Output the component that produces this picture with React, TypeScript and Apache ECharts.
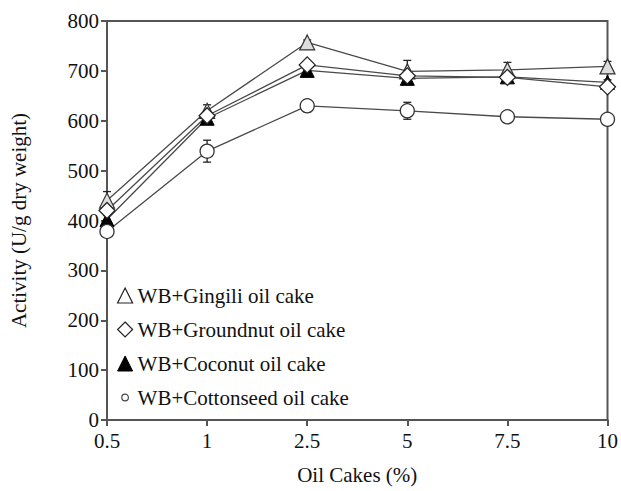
import React, { useEffect, useRef } from "react";
import * as echarts from "echarts";

const categories = ["0.5", "1", "2.5", "5", "7.5", "10"];
const yTicks = [0, 100, 200, 300, 400, 500, 600, 700, 800];

const gingili = [440, 620, 757, 699, 702, 709];
const gingiliErr = [18, 12, 5, 22, 15, 10];
const groundnut = [420, 610, 712, 690, 687, 668];
const groundnutErr = [5, 5, 5, 5, 5, 5];
const coconut = [402, 605, 701, 685, 688, 677];
const coconutErr = [8, 5, 5, 5, 5, 5];
const cottonseed = [378, 539, 630, 620, 608, 603];
const cottonseedErr = [5, 22, 12, 17, 6, 5];

const names = [
  "WB+Gingili oil cake",
  "WB+Groundnut oil cake",
  "WB+Coconut oil cake",
  "WB+Cottonseed oil cake",
];

const FONT = "Times New Roman, Liberation Serif, DejaVu Serif, serif";
const LINE = "#4a4a4a";
const SMALL_CIRCLE =
  "path://M0,0M100,100M28,50A22,22,0,1,0,72,50A22,22,0,1,0,28,50Z";

function errSeries(vals: number[], errs: number[]) {
  return {
    type: "custom",
    z: 1,
    silent: true,
    data: vals.map((v, i) => [i, v - errs[i], v + errs[i]]),
    encode: { x: 0, y: [1, 2] },
    renderItem: (params: any, api: any) => {
      const lo = api.coord([api.value(0), api.value(1)]);
      const hi = api.coord([api.value(0), api.value(2)]);
      const w = 4;
      const style = { stroke: "#222", lineWidth: 1.3 };
      return {
        type: "group",
        children: [
          { type: "line", shape: { x1: lo[0], y1: lo[1], x2: hi[0], y2: hi[1] }, style },
          { type: "line", shape: { x1: hi[0] - w, y1: hi[1], x2: hi[0] + w, y2: hi[1] }, style },
          { type: "line", shape: { x1: lo[0] - w, y1: lo[1], x2: lo[0] + w, y2: lo[1] }, style },
        ],
      };
    },
  };
}

export default function App() {
  const ref = useRef<HTMLDivElement>(null);
  useEffect(() => {
    if (!ref.current) return;
    const chart = echarts.init(ref.current, undefined, { renderer: "svg" });
    const lineBase = {
      type: "line",
      z: 2,
      lineStyle: { color: LINE, width: 1.3 },
    };
    const txt = { fontFamily: FONT, fontSize: 21, color: "#111" };
    chart.setOption({
      animation: false,
      textStyle: { fontFamily: FONT },
      grid: {
        left: 105,
        right: 9,
        top: 21,
        bottom: 71,
        show: true,
        borderColor: "#555",
        borderWidth: 2,
      },
      legend: {
        orient: "vertical",
        left: 112,
        top: 280,
        itemGap: 13,
        itemWidth: 15,
        itemHeight: 15,
        textStyle: txt,
        data: [
          { name: names[0], icon: "triangle", itemStyle: { color: "#fff", borderColor: "#222", borderWidth: 1.2 } },
          { name: names[1], icon: "diamond", itemStyle: { color: "#fff", borderColor: "#222", borderWidth: 1.2 } },
          { name: names[2], icon: "triangle", itemStyle: { color: "#000", borderColor: "#000", borderWidth: 1 } },
          { name: names[3], icon: SMALL_CIRCLE, itemStyle: { color: "#fff", borderColor: "#444", borderWidth: 1.2 } },
        ],
      },
      xAxis: {
        type: "category",
        data: categories,
        boundaryGap: false,
        name: "Oil Cakes (%)",
        nameLocation: "middle",
        nameGap: 44,
        nameTextStyle: txt,
        axisLine: { lineStyle: { color: "#555", width: 2 } },
        axisTick: { length: 6, lineStyle: { color: "#555", width: 2 } },
        axisLabel: { ...txt, margin: 10 },
        splitLine: { show: false },
      },
      yAxis: {
        type: "value",
        min: 0,
        max: 800,
        interval: 100,
        name: "Activity (U/g dry weight)",
        nameLocation: "middle",
        nameGap: 78,
        nameTextStyle: txt,
        axisLine: { show: true, lineStyle: { color: "#555", width: 2 } },
        axisTick: { show: true, length: 6, lineStyle: { color: "#555", width: 2 } },
        axisLabel: {
          ...txt,
          margin: 8,
          formatter: (v: number) => (yTicks.includes(v) ? String(v) : ""),
        },
        splitLine: { show: false },
      },
      series: [
        errSeries(gingili, gingiliErr),
        errSeries(groundnut, groundnutErr),
        errSeries(coconut, coconutErr),
        errSeries(cottonseed, cottonseedErr),
        {
          ...lineBase,
          name: names[0],
          data: gingili,
          symbol: "triangle",
          symbolSize: 15,
          itemStyle: { color: "#ddd", borderColor: "#333", borderWidth: 1.2 },
        },
        {
          ...lineBase,
          name: names[2],
          data: coconut,
          symbol: "triangle",
          symbolSize: 14,
          itemStyle: { color: "#000", borderColor: "#000", borderWidth: 1 },
        },
        {
          ...lineBase,
          name: names[1],
          data: groundnut,
          symbol: "diamond",
          symbolSize: 16,
          itemStyle: { color: "#fff", borderColor: "#222", borderWidth: 1.3 },
        },
        {
          ...lineBase,
          name: names[3],
          data: cottonseed,
          symbol: "circle",
          symbolSize: 14,
          itemStyle: { color: "#fff", borderColor: "#333", borderWidth: 1.3 },
        },
      ],
    });
    return () => chart.dispose();
  }, []);
  return <div ref={ref} style={{ width: 621, height: 491, position: "absolute", left: 0, top: 0, background: "#fff" }} />;
}
